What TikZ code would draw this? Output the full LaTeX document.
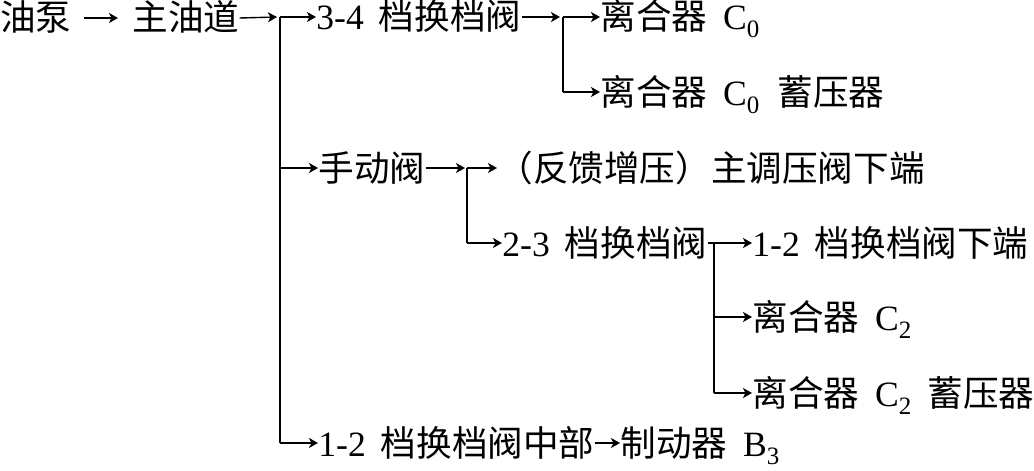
\documentclass[tikz,border=0pt]{standalone}
\usepackage{fontspec}
\setmainfont{Liberation Serif}
\newfontfamily\cjk{Noto Sans CJK SC}
\usetikzlibrary{arrows.meta}
\newcommand\zh[1]{{\cjk #1}}
\newcommand\sbs[1]{\raisebox{-4pt}{\fontsize{12.5}{12.5}\selectfont #1}}
\begin{document}
\begin{tikzpicture}[x=0.5pt,y=-0.5pt,
  font=\fontsize{17.8}{20}\selectfont,
  lbl/.style={inner sep=0pt, text height=13pt, text depth=0pt, anchor=west},
  arr/.style={-{Stealth[length=4.5pt,width=5pt,inset=1.2pt]}, line width=0.7pt},
  ln/.style={line width=0.7pt}]
\useasboundingbox (0,0) rectangle (1034,471);

% row 1
\node[lbl] (yb) at (0,18) {\zh{油泵}};
\node[lbl] (zyd) at (132,18) {\zh{主油道}};
\draw[arr] ([xshift=6pt]yb.east) -- ([xshift=-7pt]zyd.west);

\coordinate (t1) at (280,17);
\coordinate (t1m) at (280,168);
\coordinate (t1b) at (280,443);
\draw[arr] (zyd.east) -- ([xshift=-1.5pt]t1);
\draw[ln] (t1) -- (t1b);

\node[lbl] (v34) at (316,17) {3-4\hspace{7.5pt}\zh{档换档阀}};
\draw[arr] (t1) -- (v34.west);

\coordinate (t2) at (563,17);
\coordinate (t2b) at (563,92);
\draw[arr] (v34.east) -- ([xshift=-1.5pt]t2);
\draw[ln] (t2) -- (t2b);
\node[lbl] (c0) at (600,17) {\zh{离合器}\hspace{8pt}C\sbs{0}};
\node[lbl] (c0a) at (600,92) {\zh{离合器}\hspace{8pt}C\sbs{0}\hspace{9pt}\zh{蓄压器}};
\draw[arr] (t2) -- (c0.west);
\draw[arr] (t2b) -- (c0a.west);

% row 3
\node[lbl] (sd) at (318,168) {\zh{手动阀}};
\draw[arr] (t1m) -- (sd.west);
\coordinate (t3) at (467,168);
\coordinate (t3b) at (467,243);
\draw[arr] (sd.east) -- ([xshift=-1pt]t3);
\draw[ln] (t3) -- (t3b);
\node[lbl] (fk) at (497,168) {\zh{（反馈增压）主调压阀下端}};
\draw[arr] (t3) -- (fk.west);

% row 4
\node[lbl] (v23) at (502,243) {2-3\hspace{7.5pt}\zh{档换档阀}};
\draw[arr] (t3b) -- (v23.west);
\coordinate (t4) at (714,243);
\coordinate (t4m) at (714,317);
\coordinate (t4b) at (714,393);
\draw[ln] (v23.east) -- (t4) -- (t4b);
\node[lbl] (v12x) at (752,243) {1-2\hspace{7.5pt}\zh{档换档阀下端}};
\node[lbl] (c2) at (752,317) {\zh{离合器}\hspace{8pt}C\sbs{2}};
\node[lbl] (c2a) at (752,393) {\zh{离合器}\hspace{8pt}C\sbs{2}\hspace{8pt}\zh{蓄压器}};
\draw[arr] (t4) -- (v12x.west);
\draw[arr] (t4m) -- (c2.west);
\draw[arr] (t4b) -- (c2a.west);

% row 7
\node[lbl] (v12m) at (318,443) {1-2\hspace{7.5pt}\zh{档换档阀中部}};
\draw[arr] (t1b) -- (v12m.west);
\node[lbl] (zd) at (620,443) {\zh{制动器}\hspace{8pt}B\sbs{3}};
\draw[arr] (v12m.east) -- (zd.west);
\end{tikzpicture}
\end{document}
